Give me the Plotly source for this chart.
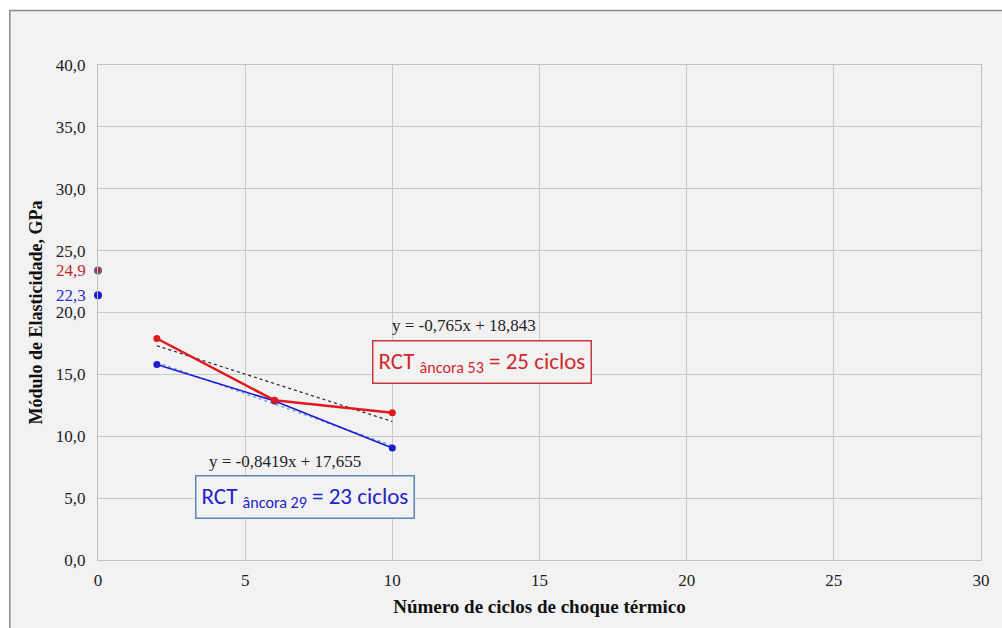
import plotly.graph_objects as go

# ---- data ----
cycles = [2, 6, 10]
red_values = [17.9, 12.9, 11.9]      # âncora 53
blue_values = [15.8, 12.85, 9.05]    # âncora 29
red_initial = 23.4
blue_initial = 21.4
red_initial_label = "24,9"
blue_initial_label = "22,3"
red_slope, red_intercept = -0.765, 18.843
blue_slope, blue_intercept = -0.8419, 17.655
trend_x = [2, 10]
y_ticks = [0, 5, 10, 15, 20, 25, 30, 35, 40]
y_tick_labels = ["0,0", "5,0", "10,0", "15,0", "20,0", "25,0", "30,0", "35,0", "40,0"]
x_ticks = [0, 5, 10, 15, 20, 25, 30]
x_tick_labels = ["0", "5", "10", "15", "20", "25", "30"]

RED = "#e0191e"
BLUE = "#1a1ad6"
SERIF = "Liberation Serif, Times New Roman, serif"
SANS = "Carlito, Open Sans, Liberation Sans, sans-serif"

fig = go.Figure()

# trend lines
fig.add_trace(go.Scatter(
    x=trend_x, y=[red_slope * x + red_intercept for x in trend_x],
    mode="lines", line=dict(color="#222222", width=1.2, dash="dot"),
    showlegend=False, hoverinfo="skip"))
fig.add_trace(go.Scatter(
    x=trend_x, y=[blue_slope * x + blue_intercept for x in trend_x],
    mode="lines", line=dict(color="#6fa0d8", width=1.5, dash="dot"),
    showlegend=False, hoverinfo="skip"))

# series
fig.add_trace(go.Scatter(
    x=cycles, y=blue_values, mode="lines+markers",
    line=dict(color=BLUE, width=1.6), marker=dict(color=BLUE, size=7),
    showlegend=False, cliponaxis=False))
fig.add_trace(go.Scatter(
    x=cycles, y=red_values, mode="lines+markers",
    line=dict(color=RED, width=2.5), marker=dict(color=RED, size=7),
    showlegend=False, cliponaxis=False))

# initial points
fig.add_trace(go.Scatter(
    x=[0], y=[blue_initial], mode="markers",
    marker=dict(color=BLUE, size=8), showlegend=False, cliponaxis=False))
fig.add_trace(go.Scatter(
    x=[0], y=[red_initial], mode="markers",
    marker=dict(color="#6a5a78", size=8), showlegend=False, cliponaxis=False))
fig.add_trace(go.Scatter(
    x=[0], y=[red_initial], mode="markers",
    marker=dict(color=RED, size=4), showlegend=False, cliponaxis=False))

# background panel
fig.add_shape(type="rect", xref="paper", yref="paper",
              x0=(9 - 98) / 891, x1=(1015 - 98) / 891,
              y0=(560 - 640) / 495, y1=(560 - 10.5) / 495,
              fillcolor="#f2f2f2", line=dict(color="#8a8a8a", width=1.5),
              layer="below")

annotations = [
    dict(x=0, y=red_initial, xref="x", yref="y", text=red_initial_label,
         showarrow=False, xanchor="right", yanchor="middle", xshift=-10,
         font=dict(family=SERIF, size=17, color="#c0282a")),
    dict(x=0, y=blue_initial, xref="x", yref="y", text=blue_initial_label,
         showarrow=False, xanchor="right", yanchor="middle", xshift=-10,
         font=dict(family=SERIF, size=17, color="#2a2ad0")),
    dict(x=(467 - 98) / 891, y=(560 - 325) / 495, xref="paper", yref="paper",
         text="y = -0,765x + 18,843", showarrow=False,
         xanchor="center", yanchor="middle",
         font=dict(family=SERIF, size=17, color="#222222")),
    dict(x=(287 - 98) / 891, y=(560 - 461) / 495, xref="paper", yref="paper",
         text="y = -0,8419x + 17,655", showarrow=False,
         xanchor="center", yanchor="middle",
         font=dict(family=SERIF, size=17, color="#222222")),
    dict(x=(485 - 98) / 891, y=(560 - 362) / 495, xref="paper", yref="paper",
         text="RCT <sub>âncora 53</sub> = 25 ciclos", showarrow=False,
         xanchor="center", yanchor="middle",
         bgcolor="#f2f2f2", bordercolor="#c8393d", borderwidth=1.5, borderpad=5,
         font=dict(family=SANS, size=23, color="#d0282c")),
    dict(x=(307 - 98) / 891, y=(560 - 497) / 495, xref="paper", yref="paper",
         text="RCT <sub>âncora 29</sub> = 23 ciclos", showarrow=False,
         xanchor="center", yanchor="middle",
         bgcolor="#f2f2f2", bordercolor="#5b87b8", borderwidth=1.5, borderpad=5,
         font=dict(family=SANS, size=23, color="#2222c8")),
]

fig.update_layout(
    width=1002, height=628,
    margin=dict(l=98, r=13, t=65, b=68),
    paper_bgcolor="white", plot_bgcolor="#f2f2f2",
    showlegend=False,
    annotations=annotations,
    xaxis=dict(range=[0, 30], tickvals=x_ticks, ticktext=x_tick_labels,
               showgrid=True, gridcolor="#c8c8c8", gridwidth=1,
               showline=True, linecolor="#c0c0c0", mirror=True, zeroline=False,
               ticks="", ticklabelstandoff=5,
               tickfont=dict(family=SERIF, size=17, color="#222222"),
               title=dict(text="<b>Número de ciclos de choque térmico</b>", standoff=10,
                          font=dict(family=SERIF, size=19, color="#111111"))),
    yaxis=dict(range=[0, 40], tickvals=y_ticks, ticktext=y_tick_labels,
               showgrid=True, gridcolor="#c8c8c8", gridwidth=1,
               showline=True, linecolor="#c0c0c0", mirror=True, zeroline=False,
               ticks="", ticklabelstandoff=8,
               tickfont=dict(family=SERIF, size=17, color="#222222"),
               title=dict(text="<b>Módulo de Elasticidade, GPa</b>", standoff=8,
                          font=dict(family=SERIF, size=18, color="#111111"))),
)

fig.write_html("out.html", config={"displayModeBar": False},
               post_script="document.body.style.margin='0';document.body.style.overflow='hidden';")
